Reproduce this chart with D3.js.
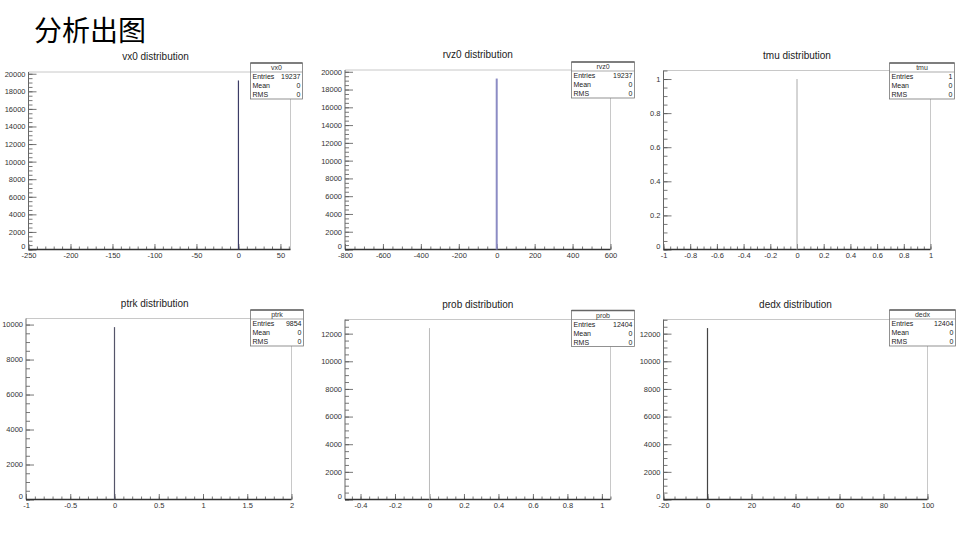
<!DOCTYPE html>
<html>
<head>
<meta charset="utf-8">
<script src="https://cdn.jsdelivr.net/npm/d3@7"></script>
<style>
  body { margin: 0; background: #fff; }
  svg text { font-family: "Liberation Sans", Arial, sans-serif; }
</style>
</head>
<body>
<div id="my_dataviz"></div>
<script>
// histogram data (one filled bin per plot, everything else is empty)
var names = ["vx0", "rvz0", "tmu", "ptrk", "prob", "dedx"];
var xDomains = [[-250, 62], [-800, 600], [-1, 1], [-1, 2], [-0.49, 1.05], [-20, 100]];
var xMajor = [50, 200, 0.2, 0.5, 0.2, 20];
var xMinorDiv = [5, 4, 4, 5, 4, 4];
var yMajor = [2000, 2000, 0.2, 2000, 2000, 2000];
var yMinorDiv = [4, 4, 4, 4, 4, 4];
var peakX = [0, 0, 0, 0, 0, 0];
var peakCount = [19237, 19237, 1, 9854, 12404, 12404];
var entries = [19237, 19237, 1, 9854, 12404, 12404];
var means = [0, 0, 0, 0, 0, 0];
var rmsValues = [0, 0, 0, 0, 0, 0];

var W = 960, H = 540;

// frame of each pad, and stat box position
var frames = [
    {l: 28.5, r: 290.5, t: 72, b: 249.5},
    {l: 345, r: 610.5, t: 70, b: 249.5},
    {l: 663.5, r: 930.5, t: 70.5, b: 249.5},
    {l: 26, r: 291.5, t: 318.5, b: 499.5},
    {l: 345, r: 610.5, t: 319.5, b: 499.5},
    {l: 663.5, r: 927.5, t: 319.5, b: 499.5}
];
var boxes = [
    {x: 250.5, y: 63, w: 52},
    {x: 571.5, y: 62, w: 63},
    {x: 889.5, y: 63, w: 65},
    {x: 250.5, y: 310, w: 53},
    {x: 571.5, y: 310.5, w: 63},
    {x: 889.5, y: 310, w: 66}
];
var lineColors = ["#3c3c66", "#8c8cc4", "#aaaaaa", "#55556a", "#bbbbbb", "#444444"];
var spikeWidths = [1.2, 2, 1, 1.2, 1, 1.2];

var svg = d3.select("#my_dataviz")
    .append("svg")
    .attr("width", W)
    .attr("height", H);

svg.append("text")
    .attr("x", 34)
    .attr("y", 41)
    .style("font-family", "'Noto Sans CJK SC', sans-serif")
    .style("font-size", "28px")
    .style("fill", "#000")
    .text("分析出图");

function fmt(v) {
    return String(Math.round(v * 10000) / 10000);
}

function multiples(d0, d1, step) {
    var out = [];
    var k0 = Math.ceil(d0 / step - 1e-9), k1 = Math.floor(d1 / step + 1e-9);
    for (var k = k0; k <= k1; k++) out.push(k * step);
    return out;
}

names.forEach(function (name, i) {
    var f = frames[i];
    var g = svg.append("g");
    var ymax = peakCount[i] * 1.05;

    var x = d3.scaleLinear().domain(xDomains[i]).range([f.l, f.r]);
    var y = d3.scaleLinear().domain([0, ymax]).range([f.b, f.t]);

    // light frame (top/right)
    g.append("path")
        .attr("d", "M" + f.l + "," + f.t + "H" + f.r + "V" + f.b)
        .style("fill", "none")
        .style("stroke", "#c8c8c8")
        .style("stroke-width", 1);

    // title
    g.append("text")
        .attr("x", (f.l + f.r) / 2 + (i % 3 == 0 ? -4 : 0))
        .attr("y", f.t - 12)
        .attr("text-anchor", "middle")
        .style("font-size", "10px")
        .style("fill", "#222")
        .text(name + " distribution");

    // Y axis
    var yMaj = multiples(0, ymax, yMajor[i]);
    var yMin = multiples(0, ymax, yMajor[i] / yMinorDiv[i]);
    var yAx = g.append("g")
        .attr("transform", "translate(" + f.l + ",0)")
        .call(d3.axisLeft(y).tickValues(yMaj).tickSize(-8).tickPadding(3).tickFormat(fmt));
    // the zero label sits a little higher, above the corner x label
    yAx.selectAll(".tick text").filter(function (d) { return d === 0; })
        .attr("dy", "-0.15em");
    g.append("g")
        .attr("transform", "translate(" + f.l + ",0)")
        .call(d3.axisLeft(y).tickValues(yMin).tickSize(-4).tickFormat(""));

    // X axis
    var xMaj = multiples(xDomains[i][0], xDomains[i][1], xMajor[i]);
    var xMin = multiples(xDomains[i][0], xDomains[i][1], xMajor[i] / xMinorDiv[i]);
    g.append("g")
        .attr("transform", "translate(0," + f.b + ")")
        .call(d3.axisBottom(x).tickValues(xMaj).tickSize(-5.5).tickPadding(3.5).tickFormat(fmt));
    g.append("g")
        .attr("transform", "translate(0," + f.b + ")")
        .call(d3.axisBottom(x).tickValues(xMin).tickSize(-3).tickFormat(""));

    g.selectAll(".domain").remove();
    g.selectAll(".tick line").style("stroke", "#555").style("stroke-width", 0.8);
    g.selectAll(".tick text")
        .style("font-size", "7.5px")
        .style("font-family", "'Liberation Sans', Arial, sans-serif")
        .style("fill", "#333");

    // axis lines
    g.append("line")
        .attr("x1", f.l).attr("x2", f.l)
        .attr("y1", f.t).attr("y2", f.b)
        .style("stroke", "#666").style("stroke-width", 1);
    g.append("line")
        .attr("x1", f.l).attr("x2", f.r)
        .attr("y1", f.b).attr("y2", f.b)
        .style("stroke", "#333").style("stroke-width", 1.3);

    // the filled bin
    g.append("line")
        .attr("x1", x(peakX[i])).attr("x2", x(peakX[i]))
        .attr("y1", y(0)).attr("y2", y(peakCount[i]))
        .style("stroke", lineColors[i])
        .style("stroke-width", spikeWidths[i]);

    // stats box
    var b = boxes[i], bh = 36, rh = bh / 4;
    var sb = g.append("g");
    sb.append("rect")
        .attr("x", b.x).attr("y", b.y)
        .attr("width", b.w).attr("height", bh)
        .style("fill", "#fff")
        .style("stroke", "#777")
        .style("stroke-width", 0.8);
    sb.append("line")
        .attr("x1", b.x).attr("x2", b.x + b.w)
        .attr("y1", b.y).attr("y2", b.y)
        .style("stroke", "#666").style("stroke-width", 1.4);
    sb.append("line")
        .attr("x1", b.x).attr("x2", b.x + b.w)
        .attr("y1", b.y + rh).attr("y2", b.y + rh)
        .style("stroke", "#888").style("stroke-width", 0.7);
    sb.append("text")
        .attr("x", b.x + b.w / 2).attr("y", b.y + rh - 2)
        .attr("text-anchor", "middle")
        .style("font-size", "7px").style("fill", "#333")
        .text(name);
    var rows = [["Entries", entries[i]], ["Mean", means[i]], ["RMS", rmsValues[i]]];
    rows.forEach(function (r, k) {
        var ty = b.y + rh * (k + 2) - 2;
        sb.append("text")
            .attr("x", b.x + 2).attr("y", ty)
            .style("font-size", "7px").style("fill", "#222")
            .text(r[0]);
        sb.append("text")
            .attr("x", b.x + b.w - 2).attr("y", ty)
            .attr("text-anchor", "end")
            .style("font-size", "7px").style("fill", "#222")
            .text(r[1]);
    });
});
</script>
</body>
</html>
